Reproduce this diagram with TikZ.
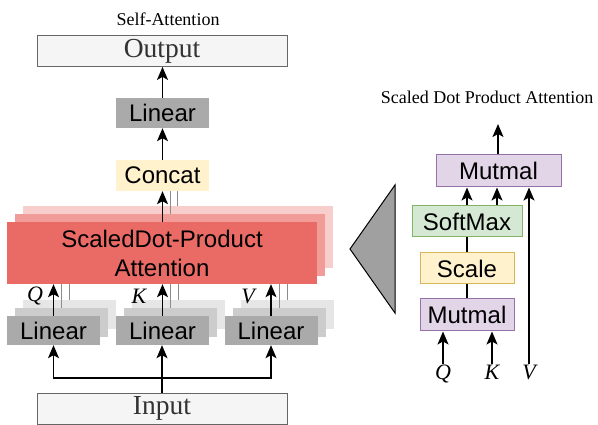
\documentclass[tikz,border=0pt]{standalone}
\usepackage{fontspec}
\setmainfont{Liberation Serif}
\setsansfont{Liberation Sans}
\usetikzlibrary{arrows.meta,calc}
\definecolor{iofill}{HTML}{F5F5F5}
\definecolor{iodraw}{HTML}{666666}
\definecolor{lin1}{HTML}{AAAAAA}
\definecolor{lin2}{HTML}{CCCCCC}
\definecolor{lin3}{HTML}{E6E6E6}
\definecolor{att1}{HTML}{EA6B66}
\definecolor{att2}{HTML}{F19C99}
\definecolor{att3}{HTML}{F8CECC}
\definecolor{yfill}{HTML}{FFF2CC}
\definecolor{ydraw}{HTML}{D6B656}
\definecolor{pfill}{HTML}{E1D5E7}
\definecolor{pdraw}{HTML}{9673A6}
\definecolor{gfill}{HTML}{D5E8D4}
\definecolor{gdraw}{HTML}{82B366}
\definecolor{triang}{HTML}{A0A0A0}
\begin{document}
\begin{tikzpicture}[x=1pt,y=-1pt,
  box/.style={rectangle, inner sep=0pt, font=\fontsize{24}{29}\selectfont\sffamily, align=center},
  iobox/.style={rectangle, inner sep=0pt, fill=iofill, draw=iodraw, line width=0.8pt,
     minimum width=250pt, minimum height=31pt, text=black!80,
     font=\fontsize{27.5}{30}\selectfont},
  linbox/.style={box, minimum width=93pt, minimum height=29pt},
  attbox/.style={box, minimum width=310pt, minimum height=62pt},
  rbox/.style={box, line width=1pt},
  title/.style={font=\fontsize{18}{20}\selectfont, inner sep=0pt},
  qkv/.style={font=\fontsize{22}{24}\selectfont\itshape, inner sep=1pt},
  arr/.style={line width=1.3pt, -{Stealth[length=13pt,width=11pt,inset=3pt]}},
  plain/.style={line width=1.3pt},
  ghost/.style={line width=1pt, draw=black!45},
]
\useasboundingbox (0,0) rectangle (598,425);

% ---------- left: self-attention ----------
\node[title] (t1) at (168,19) {Self-Attention};
\node[iobox] (output) at (162,51) {Output};
\node[linbox, fill=lin1, minimum height=30pt] (lintop) at (162.5,113) {Linear};
\node[linbox, fill=yfill, minimum height=31pt] (concat) at (162.5,175.5) {Concat};

% attention stack
\node[attbox, fill=att3] (at3) at (178,237.5) {};
\node[attbox, fill=att2] (at2) at (170,245) {};

% linear stacks (back layers)
\foreach \i/\cx in {1/53.5, 2/162.5, 3/271}{
  \node[linbox, fill=lin3] (lin\i3) at (\cx+16,330.5-16) {};
  \node[linbox, fill=lin2] (lin\i2) at (\cx+8,330.5-8) {};
}

% ghost connectors of the back layers
\foreach \i in {1,2,3}{
  \draw[ghost] (lin\i2.north) -- (lin\i2.north |- at2.south);
  \draw[ghost] (lin\i3.north) -- (lin\i3.north |- at3.south);
}
\draw[ghost] ([xshift=8pt]concat.south) -- ([xshift=8pt]concat.south |- at2.north);
\draw[ghost] ([xshift=15pt]concat.south) -- ([xshift=15pt]concat.south |- at3.north);

\node[attbox, fill=att1] (at1) at (162,253) {ScaledDot-Product\\Attention};

\node[linbox, fill=lin1] (lin11) at (53.5,330.5) {Linear};
\node[linbox, fill=lin1] (lin21) at (162.5,330.5) {Linear};
\node[linbox, fill=lin1] (lin31) at (271,330.5) {Linear};

\node[qkv] (q1) at (35,296) {Q};
\node[qkv] (k1) at (139,296) {K};
\node[qkv] (v1) at (248,296) {V};

\node[iobox] (input) at (162,408.5) {Input};
\coordinate (jn) at (162,378);

\draw[arr] (lin11.north) -- (lin11.north |- at1.south);
\draw[arr] (lin21.north) -- (lin21.north |- at1.south);
\draw[arr] (lin31.north) -- (lin31.north |- at1.south);
\draw[arr] (at1.north -| concat.south) -- (concat.south);
\draw[arr] (concat.north) -- (lintop.south);
\draw[arr] (lintop.north) -- (lintop.north |- output.south);

\draw[plain] (input.north) -- (jn);
\draw[arr] (jn) -| (lin11.south);
\draw[arr] (jn) -| (lin31.south);
\draw[arr] (jn) -- (jn |- lin21.south);

% ---------- triangle ----------
\coordinate (ta) at (395,185);
\coordinate (tb) at (350,249);
\coordinate (tc) at (395,313);
\draw[fill=triang, line width=1pt] (ta) -- (tb) -- (tc) -- cycle;

% ---------- right: scaled dot product attention ----------
\node[title] (t2) at (487,97) {Scaled Dot Product Attention};
\node[rbox, fill=pfill, draw=pdraw, minimum width=125pt, minimum height=32pt] (mm2) at (498.5,171) {Mutmal};
\node[rbox, fill=gfill, draw=gdraw, minimum width=110pt, minimum height=31pt] (sm) at (467,221.5) {SoftMax};
\node[rbox, fill=yfill, draw=ydraw, minimum width=94pt, minimum height=31pt] (sc) at (467,268.5) {Scale};
\node[rbox, fill=pfill, draw=pdraw, minimum width=94pt, minimum height=32pt] (mm1) at (467,315) {Mutmal};

\node[qkv, anchor=north] (q2) at (443,364) {Q};
\node[qkv, anchor=north] (k2) at (492,364) {K};
\node[qkv, anchor=north] (v2) at (529,364) {V};

\coordinate (topend) at (498,124);
\draw[arr] (mm2.north -| topend) -- (topend);
\draw[arr] (sm.north) -- (sm.north |- mm2.south);
\draw[arr] ([xshift=30pt]sm.north) -- ([xshift=30pt]sm.north |- mm2.south);
\draw[arr] (v2.north) -- (v2.north |- mm2.south);
\draw[plain] (sm.south) -- (sc.north);
\draw[plain] (sc.south) -- (mm1.north);
\draw[arr] (q2.north) -- (q2.north |- mm1.south);
\draw[arr] (k2.north) -- (k2.north |- mm1.south);
\end{tikzpicture}
\end{document}
